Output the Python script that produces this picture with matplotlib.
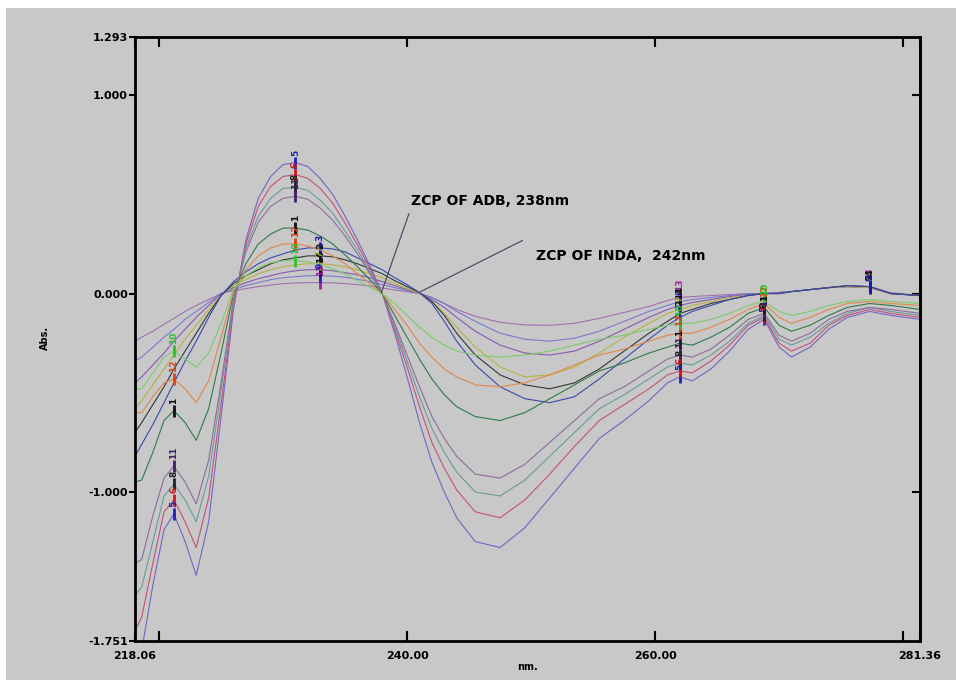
import matplotlib
matplotlib.use("Agg")
import matplotlib.pyplot as plt
from matplotlib.patches import Rectangle

# wavelength grid (nm) shared by all spectra
wavelength = [218.06, 218.6, 219.5, 220.4, 221.2, 222.1, 223.0, 224.0, 225.0, 226.0,
              227.0, 228.0, 229.0, 230.0, 231.0, 232.0, 233.0, 234.0, 235.0, 236.0, 237.0, 238.0,
              239.0, 240.0, 241.0, 242.0, 243.0, 244.0,
              245.5, 247.5, 249.5, 251.5, 253.5, 255.5, 257.5, 259.5,
              261.0, 262.0, 263.0, 264.5, 266.0, 267.5, 268.8,
              270.0, 271.0, 272.5, 274.0, 275.5, 277.3, 279.0, 281.36]

# ADB-type spectra (zero crossing at 238 nm)
adb_1 = [-1.95, -1.80, -1.47, -1.19, -1.11, -1.25, -1.42, -1.15, -0.62, -0.08,
         0.27, 0.48, 0.59, 0.65, 0.66, 0.64, 0.58, 0.50, 0.39, 0.27, 0.14, 0.0,
         -0.20, -0.42, -0.65, -0.85, -1.00, -1.13,
         -1.25, -1.28, -1.18, -1.03, -0.88, -0.73, -0.64, -0.54,
         -0.45, -0.42, -0.44, -0.38, -0.29, -0.18, -0.13,
         -0.27, -0.32, -0.27, -0.18, -0.12, -0.09, -0.11, -0.13]
adb_2 = [-1.70, -1.63, -1.36, -1.10, -1.04, -1.15, -1.28, -1.03, -0.56, -0.06,
         0.25, 0.44, 0.54, 0.59, 0.60, 0.58, 0.53, 0.455, 0.355, 0.245, 0.125, 0.0,
         -0.18, -0.37, -0.57, -0.75, -0.88, -0.99,
         -1.10, -1.13, -1.04, -0.91, -0.77, -0.64, -0.56, -0.48,
         -0.41, -0.39, -0.40, -0.34, -0.26, -0.16, -0.12,
         -0.25, -0.29, -0.25, -0.16, -0.11, -0.08, -0.10, -0.12]
adb_3 = [-1.52, -1.48, -1.25, -1.02, -0.96, -1.04, -1.15, -0.92, -0.49, -0.04,
         0.23, 0.39, 0.48, 0.53, 0.535, 0.52, 0.47, 0.405, 0.315, 0.22, 0.11, 0.0,
         -0.16, -0.34, -0.52, -0.68, -0.80, -0.90,
         -1.00, -1.02, -0.94, -0.82, -0.70, -0.58, -0.51, -0.43,
         -0.37, -0.35, -0.36, -0.31, -0.24, -0.15, -0.11,
         -0.23, -0.26, -0.22, -0.15, -0.10, -0.07, -0.09, -0.11]
adb_4 = [-1.36, -1.34, -1.12, -0.93, -0.87, -0.95, -1.06, -0.84, -0.45, -0.03,
         0.21, 0.36, 0.44, 0.48, 0.49, 0.475, 0.43, 0.37, 0.29, 0.20, 0.10, 0.0,
         -0.15, -0.31, -0.47, -0.62, -0.73, -0.82,
         -0.91, -0.93, -0.86, -0.75, -0.64, -0.53, -0.47, -0.39,
         -0.33, -0.31, -0.32, -0.28, -0.21, -0.13, -0.10,
         -0.21, -0.24, -0.20, -0.13, -0.09, -0.07, -0.08, -0.10]
adb_5 = [-0.95, -0.94, -0.80, -0.64, -0.59, -0.65, -0.74, -0.58, -0.30, 0.0,
         0.15, 0.25, 0.30, 0.33, 0.33, 0.32, 0.29, 0.25, 0.195, 0.135, 0.07, 0.0,
         -0.11, -0.22, -0.33, -0.43, -0.51, -0.57,
         -0.62, -0.64, -0.60, -0.53, -0.46, -0.39, -0.35, -0.30,
         -0.27, -0.25, -0.26, -0.22, -0.17, -0.10, -0.07,
         -0.16, -0.19, -0.16, -0.11, -0.07, -0.05, -0.06, -0.08]
adb_6 = [-0.60, -0.60, -0.52, -0.45, -0.43, -0.48, -0.55, -0.44, -0.22, 0.01,
         0.12, 0.19, 0.23, 0.25, 0.25, 0.24, 0.22, 0.19, 0.15, 0.10, 0.05, 0.0,
         -0.08, -0.16, -0.25, -0.32, -0.38, -0.42,
         -0.46, -0.47, -0.45, -0.41, -0.36, -0.31, -0.28, -0.24,
         -0.21, -0.20, -0.20, -0.17, -0.13, -0.08, -0.05,
         -0.12, -0.15, -0.12, -0.08, -0.05, -0.04, -0.05, -0.06]
adb_7 = [-0.48, -0.48, -0.40, -0.32, -0.29, -0.33, -0.37, -0.30, -0.15, 0.02,
         0.09, 0.13, 0.155, 0.165, 0.165, 0.16, 0.145, 0.125, 0.10, 0.065, 0.033, 0.0,
         -0.05, -0.11, -0.17, -0.22, -0.26, -0.29,
         -0.31, -0.32, -0.31, -0.29, -0.26, -0.23, -0.21, -0.18,
         -0.16, -0.15, -0.15, -0.13, -0.10, -0.06, -0.04,
         -0.09, -0.11, -0.09, -0.06, -0.04, -0.03, -0.04, -0.05]

# INDA-type spectra (zero crossing at 242 nm)
inda_1 = [-0.24, -0.22, -0.19, -0.155, -0.125, -0.09, -0.06, -0.03, 0.0, 0.015,
          0.025, 0.035, 0.043, 0.05, 0.053, 0.055, 0.055, 0.054, 0.05, 0.045, 0.038, 0.028,
          0.018, 0.009, 0.0, -0.02, -0.05, -0.08,
          -0.115, -0.145, -0.158, -0.16, -0.15, -0.125, -0.095, -0.065,
          -0.035, -0.02, -0.015, -0.01, -0.005, 0.0, 0.0,
          0.005, 0.01, 0.02, 0.03, 0.035, 0.035, 0.005, -0.01]
inda_2 = [-0.34, -0.32, -0.27, -0.22, -0.18, -0.13, -0.09, -0.045, 0.0, 0.02,
          0.04, 0.055, 0.07, 0.08, 0.085, 0.09, 0.09, 0.088, 0.082, 0.072, 0.06, 0.045,
          0.03, 0.015, 0.0, -0.02, -0.05, -0.09,
          -0.14, -0.20, -0.23, -0.24, -0.225, -0.19, -0.14, -0.09,
          -0.06, -0.04, -0.03, -0.02, -0.01, 0.0, 0.0,
          0.005, 0.01, 0.02, 0.03, 0.035, 0.03, 0.0, -0.01]
inda_3 = [-0.45, -0.42, -0.36, -0.30, -0.24, -0.18, -0.12, -0.06, 0.0, 0.03,
          0.055, 0.075, 0.09, 0.105, 0.115, 0.12, 0.12, 0.115, 0.105, 0.095, 0.08, 0.06,
          0.04, 0.02, 0.0, -0.03, -0.07, -0.12,
          -0.19, -0.26, -0.30, -0.31, -0.29, -0.24, -0.18, -0.12,
          -0.08, -0.06, -0.045, -0.03, -0.015, -0.005, 0.0,
          0.005, 0.01, 0.02, 0.03, 0.035, 0.03, 0.0, -0.01]
inda_4 = [-0.58, -0.54, -0.46, -0.38, -0.31, -0.23, -0.16, -0.08, -0.01, 0.04,
          0.07, 0.10, 0.12, 0.135, 0.145, 0.15, 0.15, 0.145, 0.135, 0.12, 0.10, 0.08,
          0.05, 0.025, 0.0, -0.04, -0.10, -0.17,
          -0.27, -0.37, -0.42, -0.41, -0.37, -0.30, -0.22, -0.15,
          -0.10, -0.08, -0.06, -0.04, -0.02, -0.01, 0.0,
          0.0, 0.01, 0.02, 0.03, 0.035, 0.03, 0.0, -0.01]
inda_5 = [-0.70, -0.65, -0.56, -0.47, -0.38, -0.29, -0.20, -0.10, -0.01, 0.05,
          0.09, 0.12, 0.15, 0.17, 0.18, 0.19, 0.19, 0.185, 0.17, 0.15, 0.125, 0.10,
          0.065, 0.035, 0.005, -0.04, -0.11, -0.20,
          -0.31, -0.41, -0.46, -0.48, -0.45, -0.38, -0.29, -0.20,
          -0.14, -0.10, -0.08, -0.05, -0.03, -0.01, 0.0,
          0.0, 0.01, 0.02, 0.03, 0.04, 0.035, 0.0, -0.01]
inda_6 = [-0.82, -0.76, -0.66, -0.55, -0.45, -0.34, -0.24, -0.12, -0.01, 0.06,
          0.11, 0.15, 0.18, 0.20, 0.22, 0.23, 0.23, 0.225, 0.21, 0.18, 0.15, 0.12,
          0.08, 0.045, 0.005, -0.05, -0.14, -0.24,
          -0.36, -0.47, -0.53, -0.55, -0.52, -0.43, -0.33, -0.23,
          -0.16, -0.12, -0.09, -0.06, -0.03, -0.01, 0.0,
          0.0, 0.01, 0.02, 0.03, 0.04, 0.035, 0.0, -0.01]

adb_curves = [adb_1, adb_2, adb_3, adb_4, adb_5, adb_6, adb_7]
adb_colors = ["#7464c4", "#c4507a", "#6a9a9a", "#8c6c9c", "#2f7a4a", "#e0884a", "#7ccc6a"]
adb_marks = ["#2020c0", "#d01818", "#202020", "#402060", "#101010", "#e04010", "#30c030"]
adb_names = ["5", "6", "8", "11", "1", "12", "10"]

inda_curves = [inda_1, inda_2, inda_3, inda_4, inda_5, inda_6]
inda_colors = ["#a070b0", "#7a7ad0", "#8a58b0", "#b8b040", "#303838", "#3a4ab0"]
inda_marks = ["#a020a0", "#2020c0", "#101010", "#90a020", "#101010", "#1818b0"]
inda_names = ["13", "9", "14", "7", "2", "3"]

# indices of peak-pick positions in the wavelength grid
adb_picks = [4, 14, 37, 42]
inda_picks = [16, 37, 48]

x_ticks = [218.06, 240.0, 260.0, 281.36]
x_labels = ["218.06", "240.00", "260.00", "281.36"]
y_ticks = [-1.751, -1.0, 0.0, 1.0, 1.293]
y_labels = ["-1.751", "-1.000", "0.000", "1.000", "1.293"]

gray = "#c8c8c8"
fig = plt.figure(figsize=(9.56, 6.8), dpi=100, facecolor="white")
fig.patches.append(Rectangle((6 / 956, 0), 1, 1 - 8 / 680, transform=fig.transFigure,
                             facecolor=gray, edgecolor="none", zorder=-10))
ax = fig.add_axes([135 / 956, 39 / 680, 785 / 956, 604 / 680])
ax.set_facecolor(gray)


def draw(curves, colors, marks, names, picks):
    for ys, c, mc, name in zip(curves, colors, marks, names):
        ax.plot(wavelength, ys, color=c, lw=0.8)
        for i in picks:
            ax.plot(wavelength[i], ys[i], marker="|", ms=9, mew=2, color=mc)
            ax.annotate(name, (wavelength[i], ys[i]), xytext=(0, 5), textcoords="offset points",
                        rotation=90, ha="center", va="bottom", fontsize=6.5,
                        fontweight="bold", color=mc)


draw(inda_curves, inda_colors, inda_marks, inda_names, inda_picks)
draw(adb_curves, adb_colors, adb_marks, adb_names, adb_picks)

ax.set_xlim(218.06, 281.36)
ax.set_ylim(-1.751, 1.293)

ax.set_xticks(x_ticks)
ax.set_xticklabels(x_labels)
ax.set_xticks([220, 280], minor=True)
ax.set_yticks(y_ticks)
ax.set_yticklabels(y_labels)

tick_font = dict(family="DejaVu Sans", weight="bold", size=8)
for lab in ax.get_xticklabels() + ax.get_yticklabels():
    lab.set_fontproperties(tick_font)

ax.tick_params(axis="x", which="both", direction="in", length=7, width=1.5,
               top=True, bottom=True, pad=7)
ax.tick_params(axis="y", direction="out", length=4, width=1.5, pad=1)

sec = ax.secondary_yaxis("right")
sec.set_yticks([-1.0, 0.0, 1.0])
sec.tick_params(direction="in", length=6, width=1.5, labelright=False)
sec.spines["right"].set_linewidth(2)

for s in ax.spines.values():
    s.set_linewidth(2)

ax.set_xlabel("nm.", fontsize=7, fontweight="bold", labelpad=1)
fig.text(45 / 956, 1 - 338 / 680, "Abs.", rotation=90, fontsize=7, fontweight="bold",
         ha="center", va="center")

# zero crossing point annotations
ax.annotate("ZCP OF ADB, 238nm", xy=(237.9, 0.0), xytext=(240.3, 0.465),
            fontsize=10, fontweight="bold", va="center", ha="left",
            arrowprops=dict(arrowstyle="-", color="#404060", lw=0.8, shrinkA=2, shrinkB=0,
                            relpos=(0.0, 0.0)))
ax.annotate("ZCP OF INDA,  242nm", xy=(241.1, 0.01), xytext=(250.4, 0.19),
            fontsize=10, fontweight="bold", va="center", ha="left",
            arrowprops=dict(arrowstyle="-", color="#404060", lw=0.8, shrinkA=0, shrinkB=0,
                            relpos=(-0.08, 1.6)))

fig.savefig("out.png", dpi=100, facecolor=fig.get_facecolor())
